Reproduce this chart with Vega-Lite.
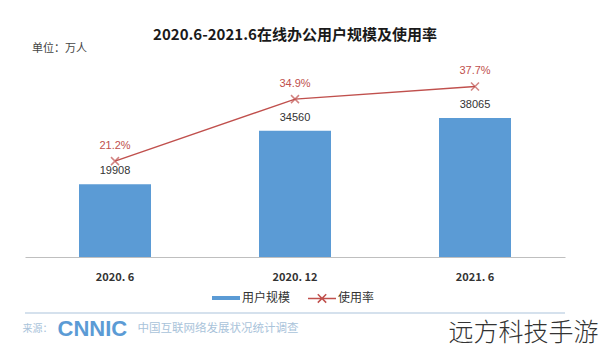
{
  "$schema": "https://vega.github.io/schema/vega-lite/v6.json",
  "width": 540,
  "height": 190,
  "autosize": "none",
  "padding": {"left": 25, "top": 67, "right": 35, "bottom": 95},
  "background": "white",
  "config": {"view": {"stroke": null}, "font": "Noto Sans CJK SC"},
  "title": {
    "text": "2020.6-2021.6在线办公用户规模及使用率",
    "fontSize": 15,
    "fontWeight": "bold",
    "color": "#1a1a1a",
    "anchor": "middle",
    "frame": "group",
    "offset": -1,
    "font": "Noto Sans CJK SC"
  },
  "data": {
    "values": [
      {"时间": "2020. 6", "用户规模": 19908, "使用率": 0.212},
      {"时间": "2020. 12", "用户规模": 34560, "使用率": 0.349},
      {"时间": "2021. 6", "用户规模": 38065, "使用率": 0.377}
    ]
  },
  "layer": [
    {
      "mark": {"type": "bar"},
      "encoding": {
        "x": {
          "field": "时间", "type": "nominal", "sort": null,
          "scale": {"paddingInner": 0.6, "paddingOuter": 0.3},
          "axis": {
            "orient": "bottom",
            "title": "来源：", "labelFontSize": 11, "labelFontWeight": "bold", "labelColor": "#333333",
            "labelPadding": 14, "labelAngle": 0, "ticks": false, "domainColor": "#bfbfbf",
            "titleX": -3, "titleY": 71, "titleAlign": "left", "titleBaseline": "middle",
            "titleFontSize": 10, "titleFontWeight": "normal", "titleColor": "#a9c3da"
          }
        },
        "y": {
          "field": "用户规模", "type": "quantitative",
          "scale": {"domain": [0, 52000]},
          "axis": {
            "title": "单位：万人", "labels": false, "ticks": false, "domain": false, "grid": false,
            "titleAngle": 0, "titleX": 34, "titleY": -19, "titleAlign": "center", "titleBaseline": "middle",
            "titleFontSize": 11, "titleFontWeight": "normal", "titleColor": "#444444"
          }
        },
        "color": {
          "datum": "用户规模", "type": "nominal",
          "scale": {"domain": ["用户规模", "使用率"], "range": ["#5b9bd5", "#c0504d"]},
          "legend": {
            "orient": "none", "legendX": 195, "legendY": 225, "direction": "horizontal", "title": null,
            "labelFontSize": 12, "labelColor": "#333333", "symbolSize": 784, "columnPadding": 14, "labelOffset": 10,
            "encode": {
              "symbols": {
                "update": {
                  "shape": {"signal": "datum.value === '用户规模' ? 'M-1,0H1' : 'M-1,0H1M-0.3,-0.3L0.3,0.3M-0.3,0.3L0.3,-0.3'"},
                  "strokeWidth": {"signal": "datum.value === '用户规模' ? 4 : 1.5"},
                  "stroke": {"signal": "datum.value === '用户规模' ? '#5b9bd5' : '#c0504d'"},
                  "fill": {"value": "transparent"}
                }
              }
            }
          }
        }
      }
    },
    {
      "mark": {"type": "text", "baseline": "middle", "dy": -13, "fontSize": 11, "font": "Liberation Sans", "color": "#333333"},
      "encoding": {
        "x": {"field": "时间", "type": "nominal", "sort": null, "axis": null},
        "y": {"field": "用户规模", "type": "quantitative", "scale": {"domain": [0, 52000]}, "axis": null},
        "text": {"field": "用户规模", "type": "quantitative", "format": "d"}
      }
    },
    {
      "mark": {"type": "rule", "color": "#d5e1ec", "strokeWidth": 1.5},
      "encoding": {
        "y": {"datum": -15300, "type": "quantitative", "scale": {"domain": [0, 52000]}, "axis": null}
      }
    },
    {
      "mark": {"type": "line", "strokeWidth": 1.5},
      "encoding": {
        "x": {
          "field": "时间", "type": "nominal", "sort": null,
          "axis": {
            "orient": "bottom",
            "title": "CNNIC", "labels": false, "domain": false, "ticks": false,
            "titleX": 32, "titleY": 71, "titleAlign": "left", "titleBaseline": "middle",
            "titleFontSize": 22, "titleFontWeight": "bold", "titleFont": "Liberation Sans", "titleColor": "#5b9bd5"
          }
        },
        "y": {
          "field": "使用率", "type": "quantitative",
          "scale": {"domain": [0, 0.42]},
          "axis": {
            "orient": "right", "title": "远方科技手游", "labels": false, "ticks": false, "domain": false, "grid": false,
            "titleAngle": 0, "titleX": -42, "titleY": 265, "titleAlign": "center", "titleBaseline": "middle",
            "titleFontSize": 25, "titleFontWeight": 300, "titleColor": "#333333"
          }
        },
        "color": {
          "datum": "使用率", "type": "nominal",
          "scale": {"domain": ["用户规模", "使用率"], "range": ["#5b9bd5", "#c0504d"]}
        }
      }
    },
    {
      "mark": {"type": "point", "shape": "M-1,-1L1,1M-1,1L1,-1", "filled": false, "size": 64, "strokeWidth": 1.5, "color": "#c0504d"},
      "encoding": {
        "x": {"field": "时间", "type": "nominal", "sort": null, "axis": null},
        "y": {"field": "使用率", "type": "quantitative", "scale": {"domain": [0, 0.42]}, "axis": null}
      }
    },
    {
      "mark": {"type": "text", "baseline": "middle", "dy": -15, "fontSize": 11, "font": "Liberation Sans", "color": "#c0504d"},
      "encoding": {
        "x": {
          "field": "时间", "type": "nominal", "sort": null,
          "axis": {
            "orient": "bottom",
            "title": "中国互联网络发展状况统计调查", "labels": false, "domain": false, "ticks": false,
            "titleX": 112, "titleY": 71, "titleAlign": "left", "titleBaseline": "middle",
            "titleFontSize": 11.5, "titleFontWeight": "normal", "titleColor": "#a9c3da"
          }
        },
        "y": {"field": "使用率", "type": "quantitative", "scale": {"domain": [0, 0.42]}, "axis": null},
        "text": {"field": "使用率", "type": "quantitative", "format": ".1%"}
      }
    }
  ],
  "resolve": {"scale": {"y": "independent"}, "axis": {"x": "independent", "y": "independent"}}
}
